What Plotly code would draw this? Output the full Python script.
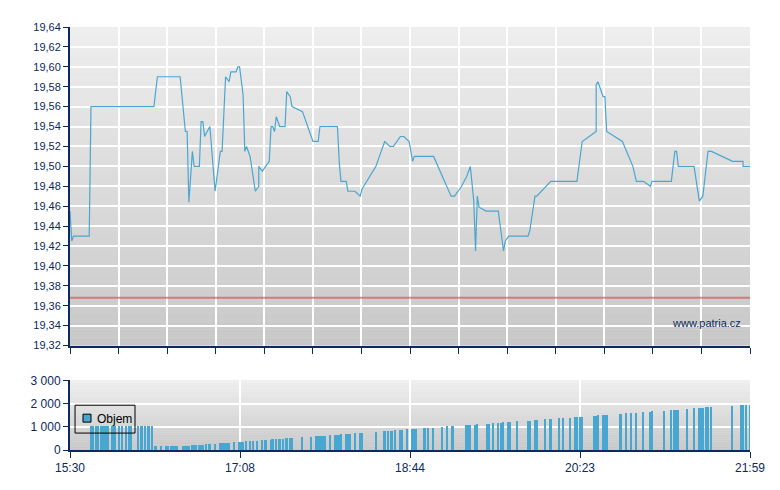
import plotly.graph_objects as go
from plotly.subplots import make_subplots

# ---------------- data ----------------
session_start = "15:30"
session_end = "21:59"
prev_close = 19.368

price_times = ["15:30", "15:31", "15:32", "15:41", "15:42", "16:18", "16:20", "16:33", "16:36", "16:37",
               "16:38", "16:40", "16:41", "16:44", "16:45", "16:46", "16:47", "16:50", "16:53", "16:56",
               "16:57", "16:59", "17:01", "17:02", "17:05", "17:06", "17:07", "17:09", "17:10", "17:11",
               "17:13", "17:16", "17:18", "17:18", "17:20", "17:24", "17:25", "17:26", "17:27", "17:28",
               "17:30", "17:33", "17:34", "17:36", "17:37", "17:43", "17:49", "17:52", "17:53", "18:03",
               "18:04", "18:05", "18:08", "18:09", "18:13", "18:16", "18:17", "18:25", "18:30", "18:33",
               "18:35", "18:37", "18:39", "18:41", "18:44", "18:46", "18:47", "18:58", "19:07", "19:08",
               "19:10", "19:14", "19:17", "19:19", "19:21", "19:22", "19:23", "19:24", "19:28", "19:35",
               "19:38", "19:39", "19:41", "19:52", "19:53", "19:56", "19:57", "20:05", "20:20", "20:23",
               "20:31", "20:31", "20:32", "20:35", "20:36", "20:37", "20:46", "20:52", "20:54", "20:58",
               "21:02", "21:03", "21:14", "21:16", "21:17", "21:18", "21:27", "21:30", "21:32", "21:35",
               "21:37", "21:49", "21:55", "21:55", "21:59"]
price_values = [19.455, 19.425, 19.43, 19.43, 19.56, 19.56, 19.59, 19.59, 19.535, 19.535,
                19.464, 19.515, 19.50, 19.50, 19.545, 19.545, 19.53, 19.54, 19.475, 19.515,
                19.515, 19.59, 19.585, 19.595, 19.595, 19.60, 19.60, 19.572, 19.515, 19.52,
                19.51, 19.475, 19.48, 19.50, 19.495, 19.505, 19.54, 19.54, 19.535, 19.55,
                19.54, 19.54, 19.575, 19.57, 19.56, 19.555, 19.525, 19.525, 19.54, 19.54,
                19.505, 19.485, 19.485, 19.475, 19.475, 19.47, 19.477, 19.50, 19.525, 19.52,
                19.52, 19.525, 19.53, 19.53, 19.525, 19.505, 19.51, 19.51, 19.475, 19.47,
                19.47, 19.48, 19.49, 19.50, 19.465, 19.415, 19.47, 19.459, 19.455, 19.455,
                19.415, 19.425, 19.43, 19.43, 19.435, 19.47, 19.47, 19.485, 19.485, 19.525,
                19.535, 19.582, 19.585, 19.57, 19.57, 19.535, 19.525, 19.50, 19.485, 19.485,
                19.48, 19.485, 19.485, 19.515, 19.515, 19.50, 19.50, 19.465, 19.47, 19.515,
                19.515, 19.505, 19.505, 19.50, 19.50]

volume_times = ["15:42", "15:43", "15:45", "15:46", "15:48", "15:49", "15:50", "15:51", "15:52", "15:54",
                "15:55", "15:56", "15:58", "16:00", "16:02", "16:04", "16:05", "16:09", "16:11", "16:13",
                "16:15", "16:17",
                "16:19", "16:22", "16:25", "16:26", "16:28", "16:29", "16:30", "16:31", "16:35", "16:36",
                "16:37", "16:38",
                "16:40", "16:41", "16:42", "16:44", "16:45", "16:46",
                "16:48", "16:50", "16:53",
                "16:56", "16:57", "16:58", "16:59", "17:00", "17:01",
                "17:04", "17:07", "17:08", "17:09",
                "17:11", "17:13", "17:15", "17:17",
                "17:20", "17:22", "17:25",
                "17:26", "17:28", "17:30", "17:32",
                "17:34", "17:36", "17:37",
                "17:43", "17:48",
                "17:51", "17:52", "17:53", "17:54", "17:55", "17:56",
                "17:59", "18:02", "18:03", "18:04",
                "18:05", "18:08", "18:09", "18:10",
                "18:13", "18:16", "18:17",
                "18:25",
                "18:30", "18:32", "18:34",
                "18:36", "18:39", "18:40",
                "18:43", "18:46", "18:47", "18:48",
                "18:53", "18:55", "18:58",
                "19:03", "19:06", "19:09",
                "19:17", "19:18", "19:19", "19:22",
                "19:23", "19:29", "19:30",
                "19:32", "19:35", "19:37",
                "19:38", "19:41", "19:42",
                "19:46", "19:52", "19:53",
                "19:56", "19:57",
                "20:02", "20:05",
                "20:10", "20:12", "20:16",
                "20:19", "20:20", "20:22", "20:23",
                "20:30", "20:31",
                "20:32", "20:35", "20:36", "20:37",
                "20:45",
                "20:48", "20:51", "20:54",
                "20:58", "21:02",
                "21:03", "21:10",
                "21:14", "21:16", "21:17", "21:18",
                "21:23",
                "21:27", "21:30", "21:31", "21:32",
                "21:34", "21:35", "21:37",
                "21:49",
                "21:54", "21:55", "21:57", "21:59"]
volume_values = ([1000] * 22 + [171] * 12 + [214] * 6 + [257] * 3 + [300] * 6 + [343] * 4 +
                 [386] * 4 + [429] * 3 + [471] * 4 + [514] * 3 + [557] * 2 + [600] * 6 +
                 [643] * 4 + [686] * 4 + [729] * 3 + [771] * 1 + [814] * 3 + [857] * 3 +
                 [900] * 4 + [943] * 3 + [986, 1014, 1029] + [1071] * 4 + [1114] * 3 +
                 [1157] * 3 + [1200] * 3 + [1243] * 3 + [1286] * 2 + [1329] * 2 + [1371] * 3 +
                 [1414] * 4 + [1457] * 2 + [1500] * 4 + [1543] * 1 + [1586] * 3 + [1629] * 2 +
                 [1671] * 2 + [1714] * 4 + [1757] * 1 + [1800] * 4 + [1843] * 3 + [1886] * 1 +
                 [1929] * 4)

time_ticklabels = ["15:30", "17:08", "18:44", "20:23", "21:59"]
price_ticks = [19.32, 19.34, 19.36, 19.38, 19.40, 19.42, 19.44, 19.46, 19.48, 19.50,
               19.52, 19.54, 19.56, 19.58, 19.60, 19.62, 19.64]
volume_ticks = [0, 1000, 2000, 3000]
series_name = "Objem"
watermark = "www.patria.cz"


def to_min(t):
    h, m = t.split(":")
    return int(h) * 60 + int(m) - to_min_base


to_min_base = 0
to_min_base = to_min(session_start)
x_end = to_min(session_end)

px = [to_min(t) for t in price_times]
vx = [to_min(t) for t in volume_times]

# ---------------- style ----------------
NAVY = "#0c2a5c"
LINE = "#4aa6d0"
BAR = "#47a7d1"
FONT = "Liberation Sans, Arial, sans-serif"
FS = 11

fig = make_subplots(rows=2, cols=1, shared_xaxes=False, vertical_spacing=0.0,
                    row_heights=[0.753, 0.247])

fig.add_trace(go.Scatter(x=[0, x_end], y=[prev_close, prev_close], mode="lines",
                         line=dict(color="rgba(214,86,86,0.7)", width=2),
                         showlegend=False, hoverinfo="skip"), row=1, col=1)
fig.add_trace(go.Scatter(x=px, y=price_values, mode="lines",
                         line=dict(color=LINE, width=1.2), showlegend=False), row=1, col=1)

fig.add_trace(go.Bar(x=vx, y=volume_values, width=1.0, marker=dict(color=BAR, line=dict(width=0)),
                     showlegend=False, name=series_name), row=2, col=1)

# gradient backgrounds
shapes = []
N = 40
for i in range(N):
    f0 = i / N
    f1 = (i + 1) / N
    t = (i + 0.5) / N  # 0 bottom -> 1 top
    c = int(200 + (239 - 200) * t)
    shapes.append(dict(type="rect", xref="x domain", yref="y domain", x0=0, x1=1, y0=f0, y1=f1,
                       fillcolor=f"rgb({c},{c},{c})", line=dict(width=0), layer="below"))
    c2 = int(200 + (241 - 200) * t)
    shapes.append(dict(type="rect", xref="x2 domain", yref="y2 domain", x0=0, x1=1, y0=f0, y1=f1,
                       fillcolor=f"rgb({c2},{c2},{c2})", line=dict(width=0), layer="below"))

# legend box (drawn to match the compact original legend)
shapes.append(dict(type="rect", xref="x2 domain", yref="y2 domain", x0=0.0074, x1=0.0956,
                   y0=0.243, y1=0.643, line=dict(color="black", width=1),
                   fillcolor="rgba(0,0,0,0)", layer="above"))
shapes.append(dict(type="rect", xref="x2 domain", yref="y2 domain", x0=0.0191, x1=0.0309,
                   y0=0.40, y1=0.514, line=dict(color="black", width=1),
                   fillcolor=BAR, layer="above"))

top_ticks = [x_end * k / 14 for k in range(15)]
bot_ticks = [x_end * k / 4 for k in range(5)]

fig.update_layout(
    width=772, height=482,
    margin=dict(l=62, r=30, t=17, b=40),
    paper_bgcolor="white", plot_bgcolor="#dcdcdc",
    separators=", ",
    font=dict(family=FONT, size=FS, color=NAVY),
    shapes=shapes,
    showlegend=False,
    annotations=[
        dict(text=watermark, xref="x domain", yref="y domain", x=0.99, y=0.07,
             xanchor="right", yanchor="middle", showarrow=False,
             font=dict(family=FONT, size=11, color=NAVY)),
        dict(text=series_name, xref="x2 domain", yref="y2 domain", x=0.0368, y=0.443,
             xanchor="left", yanchor="middle", showarrow=False,
             font=dict(family=FONT, size=12, color="black")),
    ],
    bargap=0,
)

fig.update_xaxes(row=1, col=1, range=[0, x_end], tickvals=top_ticks, showticklabels=False,
                 ticks="outside", ticklen=6, tickcolor=NAVY, tickwidth=1,
                 showline=True, linecolor=NAVY, linewidth=2,
                 showgrid=True, gridcolor="white", gridwidth=1.5, zeroline=False,
                 domain=[0, 1])
fig.update_yaxes(row=1, col=1, range=[19.32, 19.64], tickvals=price_ticks, tickformat=".2f",
                 ticks="outside", ticklen=5, tickcolor=NAVY, showline=True, linecolor=NAVY,
                 linewidth=2, showgrid=True, gridcolor="white", gridwidth=1.5, zeroline=False,
                 domain=[0.247, 1.0], tickfont=dict(size=FS, color=NAVY))
fig.update_xaxes(row=2, col=1, range=[0, x_end], tickvals=bot_ticks, ticktext=time_ticklabels,
                 ticks="outside", ticklen=6, tickcolor=NAVY, showline=True, linecolor=NAVY,
                 linewidth=2, showgrid=True, gridcolor="white", gridwidth=1.5, zeroline=False,
                 tickfont=dict(size=FS + 1, color=NAVY))
fig.update_yaxes(row=2, col=1, range=[0, 3000], tickvals=volume_ticks, tickformat=",d",
                 ticks="outside", ticklen=5, tickcolor=NAVY, showline=True, linecolor=NAVY,
                 linewidth=2, showgrid=True, gridcolor="white", gridwidth=1.5, zeroline=False,
                 domain=[0.0, 0.1647], tickfont=dict(size=FS + 1, color=NAVY))

fig.write_html("out.html")
